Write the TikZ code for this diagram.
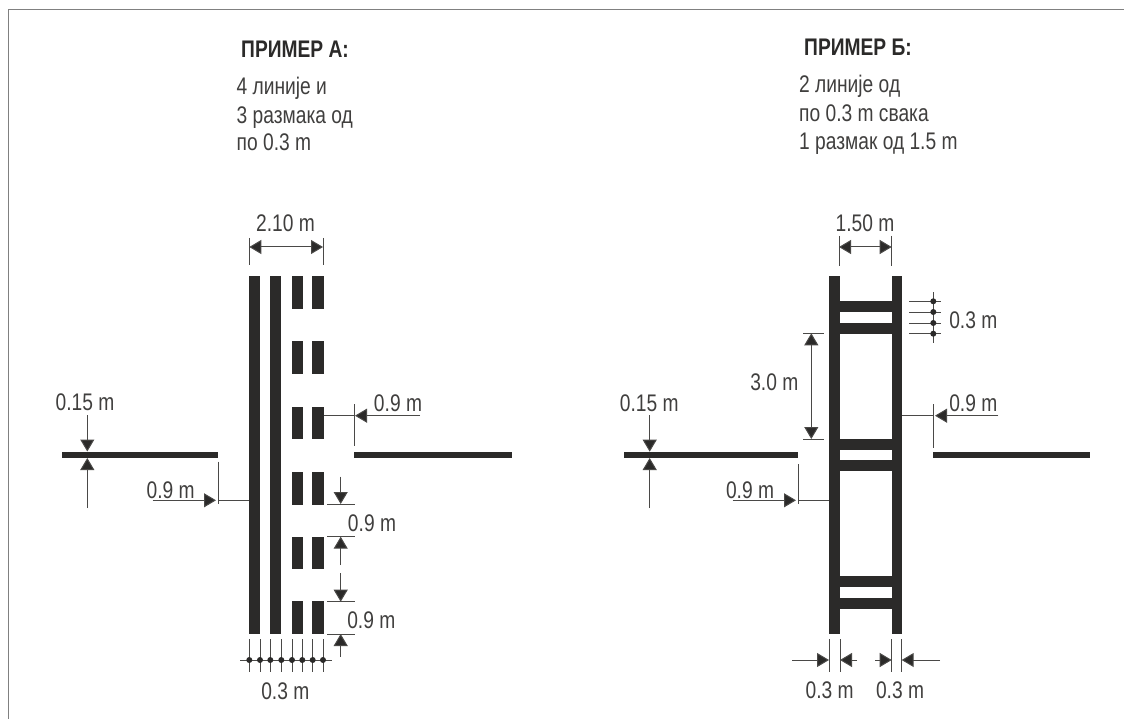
\documentclass[tikz,border=0pt]{standalone}
\usepackage{fontspec}
\setmainfont{Liberation Sans}
\newfontfamily\narrowfont[FakeStretch=0.8]{Liberation Sans}
\newfontfamily\headfont[FakeStretch=0.8]{Liberation Sans Bold}
\usetikzlibrary{arrows.meta}
\definecolor{ink}{HTML}{2B2A29}
\definecolor{thin}{HTML}{4A4947}
\tikzset{
  x=1pt,y=-1pt,
  paint/.style={fill=ink,draw=none},
  hair/.style={draw=thin,line width=1pt},
  dimarrow/.style={draw=thin,line width=1pt,-{Triangle[length=12pt,width=14pt,fill=ink]}},
  biarrow/.style={draw=thin,line width=1pt,{Triangle[length=12pt,width=14pt,fill=ink]}-{Triangle[length=12pt,width=14pt,fill=ink]}},
  lbl/.style={inner sep=0pt,text=ink!90!white,font=\narrowfont\fontsize{24}{26}\selectfont},
  body/.style={inner sep=0pt,anchor=base west,text=ink!90!white,font=\narrowfont\fontsize{24}{26}\selectfont},
  head/.style={inner sep=0pt,anchor=base west,text=ink,font=\headfont\fontsize{24}{26}\selectfont},
  dot/.style={fill=ink,draw=none}
}
\begin{document}
\begin{tikzpicture}
\useasboundingbox (0,0) rectangle (1124,719);
\fill[white] (0,0) rectangle (1124,719);
% frame
\draw[draw=gray,line width=1pt] (8.6,719) -- (8.6,9.5) -- (1124,9.5);
% headings
\node[head] (ha) at (241,58) {ПРИМЕР А:};
\node[head] (hb) at (804,56) {ПРИМЕР Б:};
\node[body] (a1) at (236.5,95) {4 линије и};
\node[body] (a2) at (236.5,123.5) {3 размака од};
\node[body] (a3) at (236.5,151) {по 0.3 m};
\node[body] (b1) at (799,93) {2 линије од};
\node[body] (b2) at (799,122) {по 0.3 m свака};
\node[body] (b3) at (799,150) {1 размак од 1.5 m};
% ---------- example A ----------
\fill[paint] (249,275.7) rectangle (260,634.3);
\fill[paint] (270.3,275.7) rectangle (281.3,634.3);
\foreach \t/\b in {275.7/309.3,341.3/374,406.7/439,471.7/504.7,537.3/569.3,601.3/634.3}{
  \fill[paint] (291.7,\t) rectangle (302.7,\b);
  \fill[paint] (312.3,\t) rectangle (323.7,\b);
}
\fill[paint] (62,452) rectangle (217.7,458);
\fill[paint] (354,452) rectangle (512.3,458);
% 2.10 m
\node[lbl] (l210) at (285.5,223) {2.10 m};
\draw[hair] (249.3,238) -- (249.3,265.5);
\draw[hair] (323,238) -- (323,265.5);
\draw[biarrow] (249.3,247) -- (323,247);
% 0.15 m
\node[lbl] (l015a) at (85,402) {0.15 m};
\draw[dimarrow] (87.3,415) -- (87.3,451.5);
\draw[dimarrow] (87.3,508) -- (87.3,458);
% 0.9 m left
\node[lbl] (l09al) at (170.7,490.7) {0.9 m};
\draw[dimarrow] (152.7,500.3) -- (216,500.3);
\draw[hair] (218,461.7) -- (218,504);
\draw[hair] (218,500.3) -- (249,500.3);
% 0.9 m right
\node[lbl] (l09ar) at (398,403) {0.9 m};
\draw[dimarrow] (420,415.7) -- (355,415.7);
\draw[hair] (354.3,404) -- (354.3,446);
\draw[hair] (323.7,415.7) -- (354.3,415.7);
% stacked 0.9 m
\draw[hair] (327.3,504) -- (355.3,504);
\draw[hair] (327.3,536.7) -- (355.3,536.7);
\draw[hair] (327.3,601.7) -- (355.3,601.7);
\draw[hair] (327.3,634) -- (355.3,634);
\draw[dimarrow] (340.7,476.7) -- (340.7,504);
\draw[dimarrow] (340.7,565) -- (340.7,536.7);
\draw[dimarrow] (340.7,573.3) -- (340.7,601.7);
\draw[dimarrow] (340.7,656.7) -- (340.7,634);
\node[lbl] (l09a1) at (372,523) {0.9 m};
\node[lbl] (l09a2) at (371.3,620) {0.9 m};
% 0.3 m ticks
\draw[hair] (240,660) -- (332.3,660);
\foreach \x in {249.3,260,270.3,281.3,292,302.3,312.7,323}{
  \draw[hair] (\x,639) -- (\x,672);
  \fill[dot] (\x,660) circle[radius=3pt];
}
\node[lbl] (l03a) at (285.3,691) {0.3 m};
% ---------- example B ----------
\fill[paint] (829,275.7) rectangle (839.7,634.3);
\fill[paint] (891.7,275.7) rectangle (902.3,634.3);
\foreach \t/\b in {300.7/312,322.7/333.7,439/450,460.3/471.3,575.7/587,598/608.7}{
  \fill[paint] (839.7,\t) rectangle (891.7,\b);
}
\fill[paint] (624,452.3) rectangle (798,458);
\fill[paint] (933,452.3) rectangle (1089.7,458);
% 1.50 m
\node[lbl] (l150) at (865,223) {1.50 m};
\draw[hair] (839,236) -- (839,265.7);
\draw[hair] (891.7,236) -- (891.7,265.7);
\draw[biarrow] (839,247) -- (891.7,247);
% 0.3 m side
\draw[hair] (933.3,292.3) -- (933.3,342.7);
\foreach \y in {301.3,312,323,333.7}{
  \draw[hair] (909,\y) -- (941.3,\y);
  \fill[dot] (933.3,\y) circle[radius=3pt];
}
\node[lbl] (l03b) at (973.3,320) {0.3 m};
% 3.0 m
\draw[hair] (803.3,333.3) -- (824,333.3);
\draw[hair] (803.3,439) -- (824,439);
\draw[biarrow] (811.3,333.3) -- (811.3,439);
\node[lbl] (l30) at (774.3,382.3) {3.0 m};
% 0.15 m
\node[lbl] (l015b) at (649.3,403) {0.15 m};
\draw[dimarrow] (649.7,415) -- (649.7,451.7);
\draw[dimarrow] (649.7,508) -- (649.7,458);
% 0.9 m left
\node[lbl] (l09bl) at (750,490.7) {0.9 m};
\draw[dimarrow] (732.7,500.3) -- (796,500.3);
\draw[hair] (798,464.3) -- (798,504);
\draw[hair] (798,500.3) -- (829,500.3);
% 0.9 m right
\node[lbl] (l09br) at (973.3,403) {0.9 m};
\draw[dimarrow] (998.3,415.7) -- (935,415.7);
\draw[hair] (933.3,404) -- (933.3,448);
\draw[hair] (902.3,415.7) -- (933.3,415.7);
% bottom 0.3 m
\foreach \x in {829,840,891.7,901.7}{
  \draw[hair] (\x,639) -- (\x,672.3);
}
\draw[dimarrow] (792,660) -- (829,660);
\draw[dimarrow] (857,660) -- (840,660);
\draw[dimarrow] (875,660) -- (891.7,660);
\draw[dimarrow] (940,660) -- (901.7,660);
\node[lbl] (l03c) at (829.7,690.7) {0.3 m};
\node[lbl] (l03d) at (900,690.7) {0.3 m};
\end{tikzpicture}
\end{document}
